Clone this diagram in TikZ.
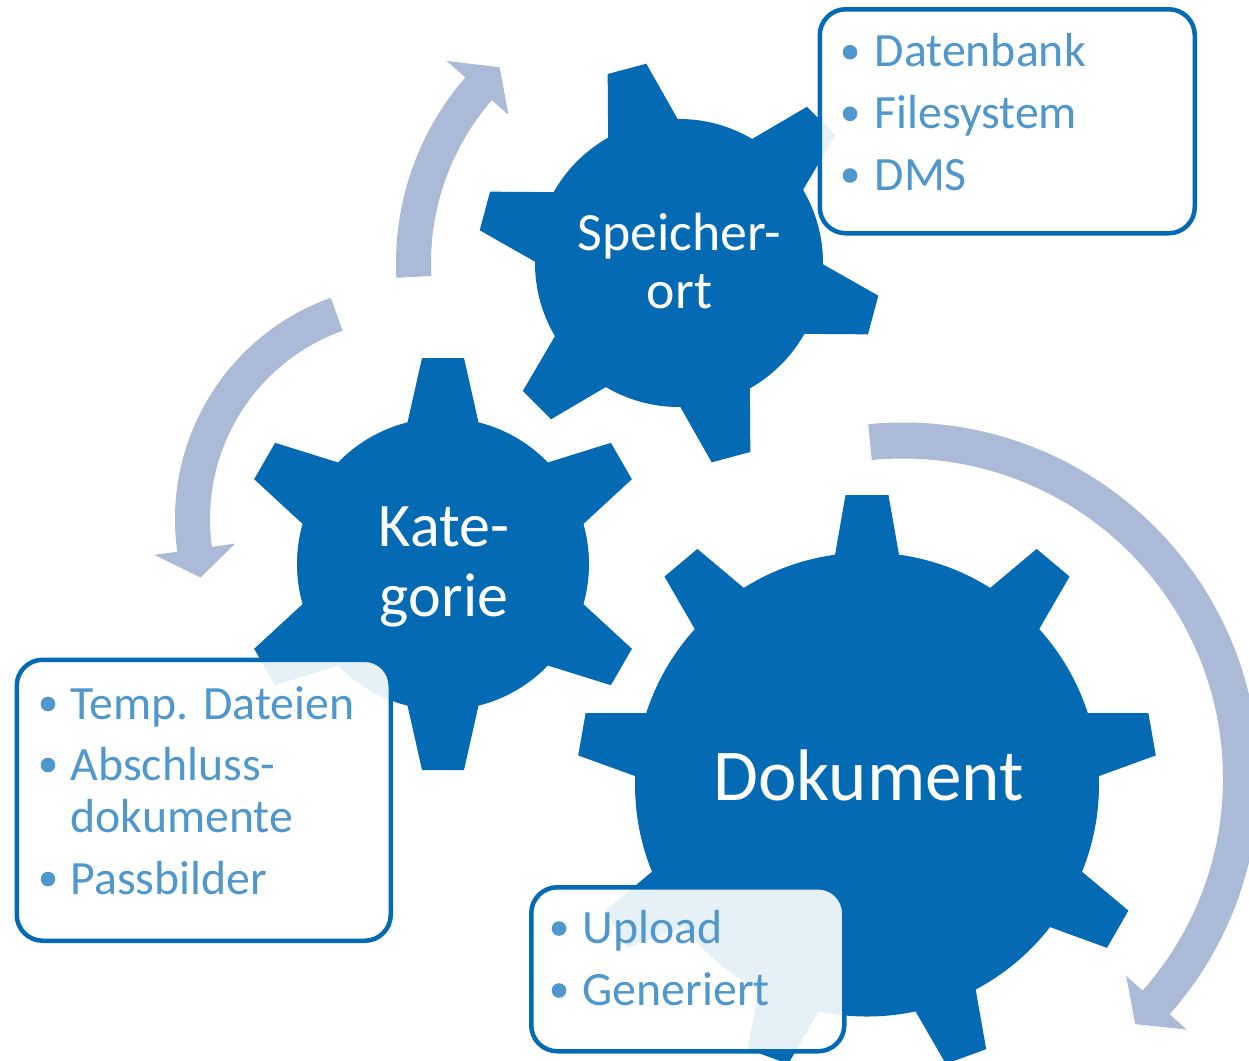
\documentclass[tikz,border=0pt]{standalone}
\usepackage{fontspec}
\setmainfont{Carlito}
\definecolor{gearblue}{RGB}{4,106,179}
\definecolor{arrowblue}{RGB}{171,186,214}
\definecolor{textblue}{RGB}{79,151,204}

% #1 cx, #2 cy, #3 body radius, #4 tip radius, #5 tip half-width, #6 base half-width, #7 teeth, #8 first tooth angle (page, ccw)
\newcommand{\drawgear}[8]{%
  \fill[gearblue] (#1,#2) circle[radius=#3];
  \pgfmathsetmacro{\ga}{100*sqrt(((#3)/100)^2-((#6)/100)^2)}%
  \pgfmathsetmacro{\gs}{((#6)-(#5))/((#4)-\ga)}%
  \pgfmathsetmacro{\gr}{(#3)-12}%
  \pgfmathsetmacro{\gw}{(#6)+\gs*(\ga-\gr)}%
  \pgfmathsetmacro{\gDt}{100*sqrt(((#4)/100)^2+((#5)/100)^2)}%
  \pgfmathsetmacro{\gpt}{atan((#5)/(#4))}%
  \pgfmathsetmacro{\gDz}{100*sqrt((\gr/100)^2+(\gw/100)^2)}%
  \pgfmathsetmacro{\gpz}{atan(\gw/\gr)}%
  \foreach \k in {1,...,#7}{%
    \pgfmathsetmacro{\gang}{-(#8)-360/(#7)*(\k-1)}%
    \fill[gearblue, shift={(#1,#2)}] (\gang-\gpz:\gDz) -- (\gang-\gpt:\gDt) -- (\gang+\gpt:\gDt) -- (\gang+\gpz:\gDz) -- cycle;
  }%
}

% #1 cx, #2 cy, #3 Rin, #4 Rout, #5 start angle, #6 head base angle, #7 tip angle (tikz angles), #8 inner barb, #9 outer barb
\newcommand{\circarrow}[9]{%
  \fill[arrowblue, shift={(#1,#2)}] (#5:#4) arc[start angle=#5, end angle=#6, radius=#4]
    -- (#6:{#4+#9}) -- (#7:{(#3+#4)/2}) -- (#6:{#3-#8}) -- (#6:#3)
    arc[start angle=#6, end angle=#5, radius=#3] -- cycle;
}

\tikzset{
  infobox/.style={draw=gearblue, line width=4.5pt, fill=white, fill opacity=0.9, draw opacity=1,
    rounded corners=26pt, inner sep=0pt, anchor=north west},
  geartext/.style={text=white, inner sep=0pt, anchor=base},
  itemtext/.style={text=textblue, inner sep=0pt, anchor=base west, font=\fontsize{47.8}{52}\selectfont},
  bul/.style={fill=textblue}
}

\begin{document}
\begin{tikzpicture}[x=1pt, y=-1pt]
\useasboundingbox (0,0) rectangle (1249,1060);

% gears
\drawgear{867}{784.5}{232}{289.5}{21.5}{32}{9}{90}
\drawgear{443}{564}{146}{206}{21}{35.5}{6}{90}
\drawgear{679}{263}{144}{201}{20}{36}{6}{105}

% circular arrows
\circarrow{679}{263}{248}{283}{-183}{-139}{-132.5}{22}{25}
\circarrow{410}{519}{200}{235}{-109.7}{-188}{-195.6}{23.5}{23}
\circarrow{903}{778.5}{320}{356}{-95.6}{41.5}{46.6}{22}{23}

% gear labels
\node[geartext, font=\fontsize{53.8}{58}\selectfont] (sp1) at (679.5,250) {Speicher-};
\node[geartext, font=\fontsize{53.8}{58}\selectfont] (sp2) at (679.5,308.3) {ort};
\node[geartext, font=\fontsize{62}{70}\selectfont] (ka1) at (444,546.7) {Kate-};
\node[geartext, font=\fontsize{62}{70}\selectfont] (ka2) at (444,616.7) {gorie};
\node[geartext, font=\fontsize{73}{80}\selectfont] (do1) at (868.5,800) {Dokument};

% boxes
\node[infobox, minimum width=375pt, minimum height=224pt] (box1) at (817.5,7) {};
\node[infobox, minimum width=374pt, minimum height=281pt] (box2) at (14.5,657.5) {};
\node[infobox, minimum width=313pt, minimum height=164pt] (box3) at (529,885) {};

% box 1 items
\node[itemtext] (t11) at (874.5,66.7) {Datenbank};
\node[itemtext] (t12) at (874.5,128.3) {Filesystem};
\node[itemtext] (t13) at (874.5,190) {DMS};
\fill[bul] (850,52.2) circle[radius=7.3];
\fill[bul] (850,113.8) circle[radius=7.3];
\fill[bul] (850,175.5) circle[radius=7.3];

% box 2 items
\node[itemtext] (t21) at (70.5,719) {Temp. Dateien};
\node[itemtext] (t22) at (70.5,780) {Abschluss-};
\node[itemtext] (t23) at (70.5,832.7) {dokumente};
\node[itemtext] (t24) at (70.5,894) {Passbilder};
\fill[bul] (48,704) circle[radius=7.3];
\fill[bul] (48,765) circle[radius=7.3];
\fill[bul] (48,879) circle[radius=7.3];

% box 3 items
\node[itemtext] (t31) at (582.5,943) {Upload};
\node[itemtext] (t32) at (582.5,1005) {Generiert};
\fill[bul] (559,928.5) circle[radius=7.3];
\fill[bul] (559,990.5) circle[radius=7.3];
\end{tikzpicture}
\end{document}
